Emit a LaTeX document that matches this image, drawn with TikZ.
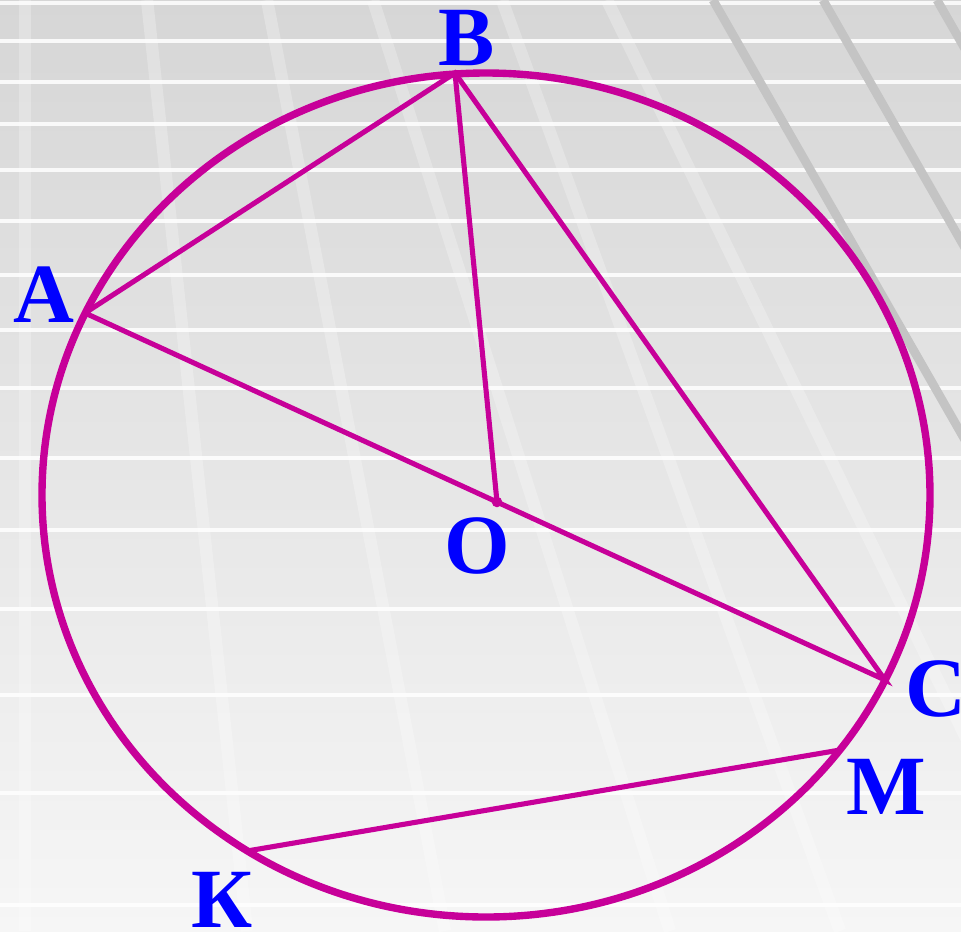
\documentclass[tikz,border=0pt]{standalone}
\usepackage{fontspec}
\setmainfont{Liberation Serif}
\usepackage{tikz}
\usetikzlibrary{calc}
\definecolor{arcmag}{RGB}{199,0,153}
\definecolor{lblblue}{RGB}{0,0,255}
\definecolor{bgtop}{RGB}{214,214,214}
\definecolor{bgbot}{RGB}{246,246,246}
\definecolor{darkstripe}{RGB}{196,196,196}

\begin{document}
\begin{tikzpicture}[x=0.02cm, y=-0.02cm,
    chord/.style={arcmag, line width=2.9pt},
    lbl/.style={lblblue, inner sep=0pt, font=\fontsize{48}{50}\selectfont\bfseries}]
  \useasboundingbox (0,0) rectangle (961,931);
  \clip (0,0) rectangle (961,931);

  % Background
  \shade[top color=bgtop, bottom color=bgbot] (0,0) rectangle (961,931);
  \foreach \y in {3,41,82,124,170,221,275,330,388,458,530,609,695,793,905}
    \draw[white, opacity=0.85, line width=2.3pt] (0,\y) -- (961,\y);
  \foreach \a/\b in {25/25,147/247,267/445,373/670,502/840,607/1060}
    \draw[white, opacity=0.25, line width=7pt] (\a,0) -- (\b,931);
  \foreach \a/\b in {713/0,823/0,937/0}
    \draw[darkstripe, line width=5pt] (\a,\b) -- ++(260,454);

  % Points on the circle
  \coordinate (B) at (455,73);
  \coordinate (A) at (85,313);
  \coordinate (O) at (497,502);
  \coordinate (C) at (885,680);
  \coordinate (M) at (840,750);
  \coordinate (K) at (247,851);

  % Circle
  \draw[arcmag, line width=4.2pt] (486,495) ellipse [x radius=444, y radius=422];

  % Chords and radius
  \draw[chord] (A) -- (B) -- (C) -- (O) -- (A);
  \draw[chord] (B) -- (O);
  \draw[chord] (K) -- (M);
  \fill[arcmag] (O) circle (3pt);

  % Labels
  \node[lbl] (lB) at (467,38) {В};
  \node[lbl] (lA) at (44,295) {А};
  \node[lbl] (lO) at (477,546) {О};
  \node[lbl] (lC) at (936,689) {С};
  \node[lbl] (lM) at (886,787) {М};
  \node[lbl] (lK) at (222,900) {К};
\end{tikzpicture}
\end{document}
